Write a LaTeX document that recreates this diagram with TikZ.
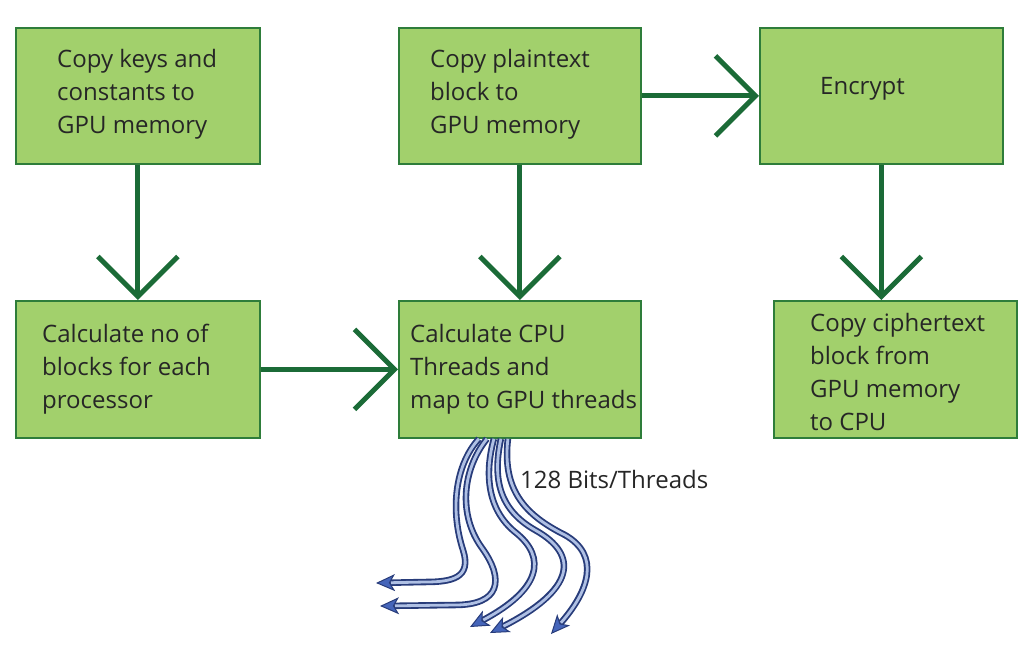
\documentclass[tikz,border=0pt]{standalone}
\usepackage{fontspec}
\setmainfont{Open Sans}
\usetikzlibrary{arrows.meta,calc}
\definecolor{boxfill}{HTML}{A2D06C}
\definecolor{boxedge}{HTML}{2E7D3A}
\definecolor{flowgreen}{HTML}{1B6B37}
\definecolor{fibdark}{HTML}{283C7A}
\definecolor{fiblight}{HTML}{AFC0E4}
\definecolor{fibtip}{HTML}{4565BA}
\tikzset{
  stepbox/.style={draw=boxedge, fill=boxfill, line width=1.8pt, inner sep=0pt,
    minimum height=136pt, anchor=north west},
  boxtext/.style={anchor=west, align=left, inner sep=0pt, text=black!85,
    font=\fontsize{24}{33}\selectfont},
  flow/.style={draw=flowgreen, line width=5pt,
    -{Straight Barb[length=40pt,width=80pt]}},
  fiber/.style={draw=fibdark, line width=6.5pt,
    -{Stealth[length=19pt,width=17pt,inset=5pt,fill=fibtip,line width=1pt]},
    postaction={draw=fiblight, line width=2.8pt, -, shorten >=15pt}},
}
\begin{document}
\begin{tikzpicture}[x=1pt,y=-1pt]
\useasboundingbox (0,0) rectangle (1028,657);

% process boxes
\node[stepbox, minimum width=244pt] (A) at (15,27) {};
\node[stepbox, minimum width=242pt] (B) at (398,27) {};
\node[stepbox, minimum width=243pt] (C) at (759,27) {};
\node[stepbox, minimum width=244pt, minimum height=137pt] (D) at (15,300) {};
\node[stepbox, minimum width=242pt, minimum height=137pt] (E) at (398,300) {};
\node[stepbox, minimum width=243pt, minimum height=137pt] (F) at (773,300) {};

% box captions
\node[boxtext] (At) at ($(A.west)+(42,-2)$) {Copy keys and\\constants to\\GPU memory};
\node[boxtext] (Bt) at ($(B.west)+(32,-2)$) {Copy plaintext\\block to\\GPU memory};
\node[boxtext] (Ct) at ($(C.west)+(61,-7)$) {Encrypt};
\node[boxtext] (Dt) at ($(D.west)+(27,0)$) {Calculate no of\\blocks for each\\processor};
\node[boxtext] (Et) at ($(E.west)+(12,0)$) {Calculate CPU\\Threads and\\map to GPU threads};
\node[boxtext] (Ft) at ($(F.west)+(37,3)$) {Copy ciphertext\\block from\\GPU memory\\to CPU};

% main flow
\draw[flow] (A) -- (D);
\draw[flow] (B) -- (E);
\draw[flow] (B) -- (C);
\draw[flow] (D) -- (E);
\draw[flow] (C.south) -- (C.south |- F.north);

% thread fan-out from the mapping step
\coordinate (s1) at ($(E.south)+(-41,0)$);
\coordinate (s2) at ($(E.south)+(-33,0)$);
\coordinate (s3) at ($(E.south)+(-26,0)$);
\coordinate (s4) at ($(E.south)+(-19,0)$);
\coordinate (s5) at ($(E.south)+(-12,0)$);
\coordinate (t1) at (376,583);
\coordinate (t2) at (380,606);
\coordinate (t3) at (470,627);
\coordinate (t4) at (490,633);
\coordinate (t5) at (551,634);

\draw[fiber] (s1) .. controls (455,465) and (450,510) .. (463,550)
  .. controls (472,578) and (452,582) .. (425,582) -- (t1);
\draw[fiber] (s2) .. controls (462,470) and (458,515) .. (482,548)
  .. controls (505,580) and (500,605) .. (455,605) -- (t2);
\draw[fiber] (s3) .. controls (484,475) and (488,510) .. (515,532)
  .. controls (548,558) and (540,590) .. (t3);
\draw[fiber] (s4) .. controls (492,480) and (500,510) .. (535,530)
  .. controls (580,555) and (575,590) .. (t4);
\draw[fiber] (s5) .. controls (502,490) and (525,515) .. (565,535)
  .. controls (600,555) and (590,590) .. (t5);

\node[boxtext] (lbl) at (520,479) {128 Bits/Threads};
\end{tikzpicture}
\end{document}
